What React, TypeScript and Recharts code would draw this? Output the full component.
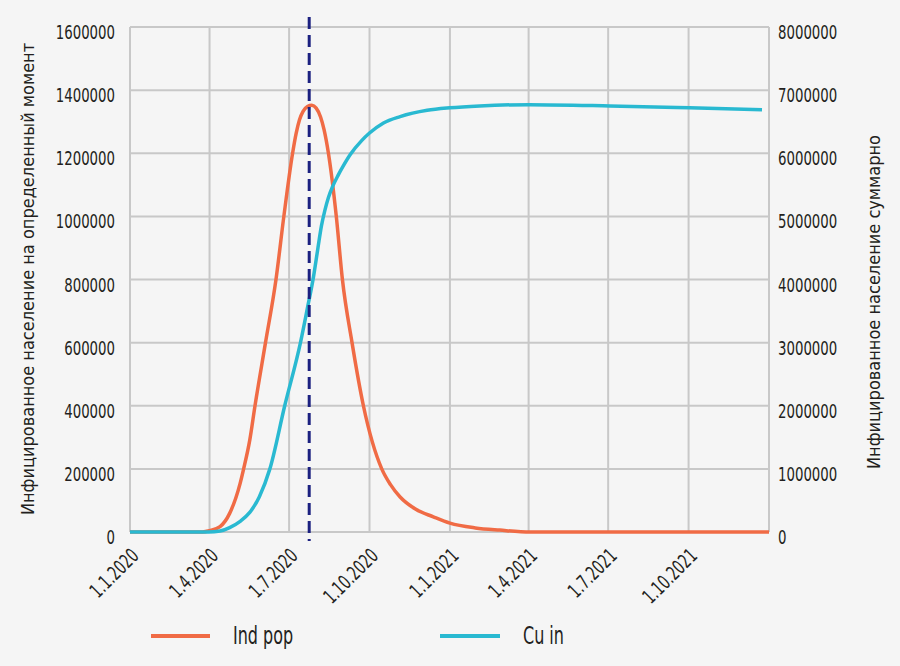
import React from "react";
import {
  LineChart,
  Line,
  XAxis,
  YAxis,
  CartesianGrid,
  ReferenceLine,
  Legend,
} from "recharts";

// x values are days since 1.1.2020
const IND_DAYS = [
  0, 83, 91, 103, 114, 126, 130, 137, 143, 155, 167, 176, 186, 190, 194, 198,
  203, 208, 213, 218, 222, 227, 236, 243, 254, 267, 288, 298, 309, 327, 347,
  366, 395, 423, 458, 731,
];
const IND_POP = [
  0, 0, 4000, 17000, 59000, 154000, 200000, 291000, 400000, 600000, 800000,
  1000000, 1200000, 1262000, 1307000, 1333000, 1348000, 1352000, 1343000,
  1315000, 1275000, 1200000, 1000000, 800000, 600000, 400000, 200000, 150000,
  111000, 72000, 48000, 28000, 13000, 6000, 0, 0,
];

const CU_DAYS = [
  0, 90, 103, 114, 126, 137, 148, 160, 177, 195, 203, 210, 215, 219, 223, 227,
  232, 238, 244, 252, 265, 274, 290, 309, 340, 366, 400, 457, 549, 640, 723,
];
const CU_IN = [
  0, 0, 15000, 70000, 170000, 310000, 560000, 1000000, 2000000, 3000000,
  3550000, 4050000, 4500000, 4850000, 5100000, 5300000, 5480000, 5650000,
  5800000, 5980000, 6200000, 6320000, 6480000, 6580000, 6680000, 6720000,
  6750000, 6770000, 6750000, 6720000, 6690000,
];

const X_TICKS = [0, 91, 182, 274, 366, 456, 547, 639, 731];
const X_TICK_LABELS = [
  "1.1.2020",
  "1.4.2020",
  "1.7.2020",
  "1.10.2020",
  "1.1.2021",
  "1.4.2021",
  "1.7.2021",
  "1.10.2021",
  "",
];

const LEFT_TICKS = [0, 200000, 400000, 600000, 800000, 1000000, 1200000, 1400000, 1600000];
const RIGHT_TICKS = [0, 1000000, 2000000, 3000000, 4000000, 5000000, 6000000, 7000000, 8000000];

const MARKER_DAY = 205;

const indData = IND_DAYS.map((day, i) => ({ day, indPop: IND_POP[i] }));
const cuData = CU_DAYS.map((day, i) => ({ day, cuIn: CU_IN[i] }));

const FONT = "'DejaVu Sans Condensed', 'DejaVu Sans', sans-serif";
const TEXT = "#231f20";
const ORANGE = "#f06b45";
const CYAN = "#29b9d1";
const NAVY = "#1c2180";
const SQUEEZE = 0.74;

const DateTick = (props: any) => {
  const { x, y, payload } = props;
  const label = X_TICK_LABELS[X_TICKS.indexOf(payload.value)] || "";
  return (
    <text
      transform={`translate(${x + 10} ${y + 23}) rotate(-45) scale(${SQUEEZE} 1)`}
      textAnchor="end"
      fontSize={20}
      fontFamily={FONT}
      fill={TEXT}
    >
      {label}
    </text>
  );
};

const ValueTick = (props: any) => {
  const { x, y, payload, textAnchor } = props;
  return (
    <text
      transform={`translate(${x} ${y + 5}) scale(${SQUEEZE} 1)`}
      dy="0.355em"
      textAnchor={textAnchor}
      fontSize={20}
      fontFamily={FONT}
      fill={TEXT}
    >
      {payload.value}
    </text>
  );
};

const AxisTitle = ({ cx, cy, text }: { cx: number; cy: number; text: string }) => (
  <text
    transform={`translate(${cx} ${cy}) rotate(-90)`}
    textAnchor="middle"
    dominantBaseline="central"
    fontSize={18}
    fontFamily={FONT}
    fill={TEXT}
  >
    {text}
  </text>
);

const MarkerLine = (p: any) => (
  <line
    x1={p.x1}
    x2={p.x2}
    y1={Math.min(p.y1, p.y2) - 10}
    y2={Math.max(p.y1, p.y2) + 9}
    stroke={NAVY}
    strokeWidth={3}
    strokeDasharray="12 6"
  />
);

const legendText: React.CSSProperties = {
  position: "absolute",
  top: 0,
  height: 48,
  display: "flex",
  alignItems: "center",
  transform: `scaleX(${SQUEEZE})`,
  transformOrigin: "left center",
  whiteSpace: "nowrap",
};

const LegendBox = () => (
  <div style={{ position: "relative", width: 900, height: 54, fontFamily: FONT, fontSize: 24, color: TEXT }}>
    <div style={{ position: "absolute", left: 151, top: 22, width: 59, height: 4, background: ORANGE }} />
    <div style={{ ...legendText, left: 233 }}>Ind pop</div>
    <div style={{ position: "absolute", left: 440, top: 22, width: 60, height: 4, background: CYAN }} />
    <div style={{ ...legendText, left: 523 }}>Cu in</div>
  </div>
);

export default function App() {
  return (
    <div style={{ position: "absolute", left: 0, top: 0, width: 900, height: 666, background: "#f5f5f5" }}>
      <LineChart width={900} height={666} margin={{ top: 27, right: 0, bottom: 0, left: 0 }}>
        <CartesianGrid yAxisId="left" stroke="#c8c8c8" strokeWidth={2} />
        <XAxis
          dataKey="day"
          type="number"
          domain={[0, 731]}
          ticks={X_TICKS}
          interval={0}
          tick={<DateTick />}
          tickLine={false}
          axisLine={false}
          tickSize={0}
          height={80}
          allowDuplicatedCategory={false}
        />
        <YAxis
          yAxisId="left"
          domain={[0, 1600000]}
          ticks={LEFT_TICKS}
          interval={0}
          width={130}
          tick={<ValueTick textAnchor="end" />}
          tickLine={false}
          axisLine={false}
          tickSize={6}
          tickMargin={9}
          label={() => <AxisTitle cx={27} cy={279} text="Инфицированное население на определенный момент" />}
        />
        <YAxis
          yAxisId="right"
          orientation="right"
          domain={[0, 8000000]}
          ticks={RIGHT_TICKS}
          interval={0}
          width={131}
          tick={<ValueTick textAnchor="start" />}
          tickLine={false}
          axisLine={false}
          tickSize={6}
          tickMargin={3}
          label={() => <AxisTitle cx={873} cy={302} text="Инфицированное население суммарно" />}
        />
        <Line
          yAxisId="left"
          data={indData}
          type="monotone"
          dataKey="indPop"
          name="Ind pop"
          stroke={ORANGE}
          strokeWidth={3.5}
          dot={false}
          isAnimationActive={false}
        />
        <Line
          yAxisId="right"
          data={cuData}
          type="monotone"
          dataKey="cuIn"
          name="Cu in"
          stroke={CYAN}
          strokeWidth={3.5}
          dot={false}
          isAnimationActive={false}
        />
        <ReferenceLine yAxisId="left" x={MARKER_DAY} shape={MarkerLine} />
        <Legend content={<LegendBox />} wrapperStyle={{ left: 0, bottom: 0, width: 900, height: 54 }} />
      </LineChart>
    </div>
  );
}
